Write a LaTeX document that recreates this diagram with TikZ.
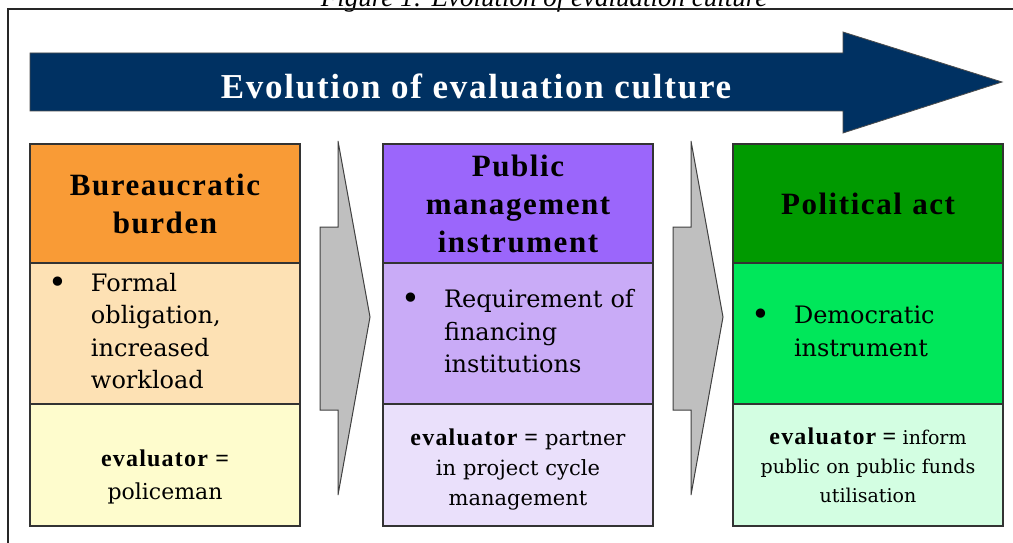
\documentclass[tikz,border=0pt]{standalone}
\usepackage{fontspec}
\setmainfont{DejaVu Serif}
\newfontfamily\headfont{Liberation Serif}[LetterSpace=5]
\newfontfamily\capfont{Liberation Serif}
\usetikzlibrary{positioning,calc}
\definecolor{navy}{HTML}{003162}
\definecolor{headA}{HTML}{F99B36}
\definecolor{midA}{HTML}{FDE1B4}
\definecolor{footA}{HTML}{FEFCCD}
\definecolor{headB}{HTML}{9B66FB}
\definecolor{midB}{HTML}{C9ABF7}
\definecolor{footB}{HTML}{EAE0FB}
\definecolor{headC}{HTML}{009A00}
\definecolor{midC}{HTML}{00E75A}
\definecolor{footC}{HTML}{D3FEE2}
\newcommand\evalr{{\headfont\bfseries\fontsize{24}{30}\selectfont evaluator =}}
\newcommand\bulletlines[1]{\makebox[43pt][l]{\raisebox{-2pt}{\fontsize{32}{0}\selectfont\textbullet}}%
  \begin{tabular}[t]{@{}l@{}}#1\end{tabular}}
\tikzset{
  cell/.style={draw=black!80, line width=1.2pt, minimum width=270pt, text width=234pt,
               inner xsep=18pt, inner ysep=0pt, outer sep=0pt},
  headcell/.style={cell, minimum height=119pt, align=center,
                   font=\headfont\bfseries\fontsize{31}{38}\selectfont},
  midcell/.style={cell, minimum height=141pt, align=left, font=\fontsize{24}{32.5}\selectfont},
  footcell/.style={cell, minimum height=122pt, align=center, font=\fontsize{21}{30}\selectfont},
  chevron/.style={fill=black!25, draw=black!75, line width=1pt},
  bigarrow/.style={fill=navy, draw=black!70, line width=0.8pt},
}

\begin{document}
\begin{tikzpicture}[x=1pt,y=-1pt]
\useasboundingbox (0,0) rectangle (1013,543);
\clip (0,0) rectangle (1013,543);
\fill[white] (0,0) rectangle (1013,543);
\node[font=\capfont\itshape\fontsize{27}{30}\selectfont, anchor=base, inner sep=0pt] (caption) at (544,7)
  {Figure 1: Evolution of evaluation culture};
\draw[line width=1.5pt, black!85] (8,543) -- (8,9) -- (1013,9);
\draw[bigarrow] (30,53) -- (843,53) -- (843,32) -- (1002,82) -- (843,133) -- (843,111) -- (30,111) -- cycle;
\node[font=\headfont\bfseries\fontsize{35}{38}\selectfont, text=white, inner sep=0pt] (title) at (476,86)
  {Evolution of evaluation culture};
\node[headcell, fill=headA, anchor=north west] (head1) at (30,144) {Bureaucratic\\burden};
\node[midcell, fill=midA, below=0pt of head1] (mid1) {\bulletlines{Formal\\obligation,\\increased\\workload}};
\node[footcell, fill=footA, below=0pt of mid1, font=\fontsize{22}{33}\selectfont] (foot1)
  {\rule{0pt}{40pt}\evalr\\policeman};
\node[headcell, fill=headB, anchor=north west] (head2) at (383,144) {Public\\management\\instrument};
\node[midcell, fill=midB, below=0pt of head2] (mid2) {\bulletlines{Requirement of\\financing\\institutions}};
\node[footcell, fill=footB, below=0pt of mid2] (foot2)
  {\rule{0pt}{26pt}\evalr{} partner\\in project cycle\\management};
\node[headcell, fill=headC, anchor=north west] (head3) at (733,144) {Political act};
\node[midcell, fill=midC, below=0pt of head3] (mid3) {\bulletlines{Democratic\\instrument}};
\node[footcell, fill=footC, below=0pt of mid3, font=\fontsize{19}{29}\selectfont] (foot3)
  {\evalr{} inform\\public on public funds\\utilisation};
\foreach \a in {head1,head2}{
  \draw[chevron] ($(\a.north east)+(38,-3)$) -- ($(\a.north east)+(70,173)$) -- ($(\a.north east)+(38,351)$)
    -- ($(\a.north east)+(38,266)$) -- ($(\a.north east)+(20,266)$) -- ($(\a.north east)+(20,83)$)
    -- ($(\a.north east)+(38,83)$) -- cycle;
}
\end{tikzpicture}
\end{document}
